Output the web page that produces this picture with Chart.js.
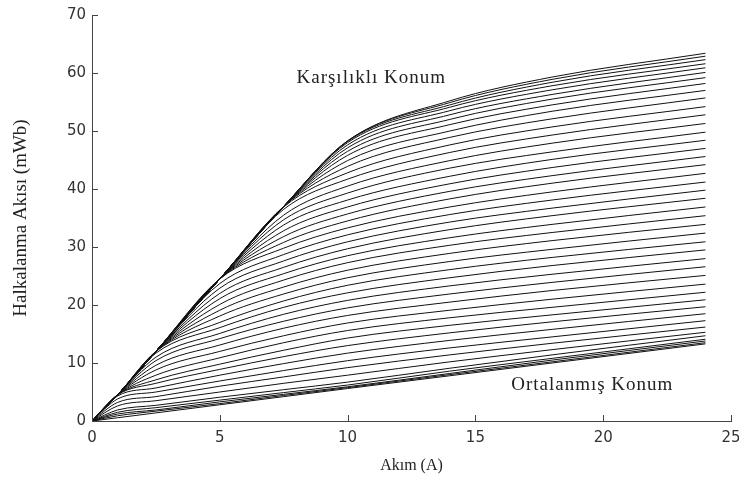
<!DOCTYPE html>
<html>
<head>
<meta charset="utf-8">
<script src="https://cdn.jsdelivr.net/npm/chart.js@4.4.1/dist/chart.umd.min.js"></script>
<style>
  html, body { margin: 0; padding: 0; background: #fff; }
  #chartId { display: block; }
</style>
</head>
<body>
<canvas id="chartId" width="739" height="484"></canvas>
<script>
// current samples (A) shared by every curve
const current = [0, 1, 2.5, 5, 7.5, 10, 14, 18, 24];

// flux linkage (mWb), aligned position (top curve)
const aligned = [0, 4.5, 12.0, 24.5, 37.0, 48.3, 55.2, 59.3, 63.4];

// intermediate rotor positions, upper group
const upperCurves = [
    [0, 4.5, 12.0, 24.5, 37.0, 48.3, 54.9, 58.9, 62.9],
    [0, 4.5, 12.0, 24.5, 37.0, 48.2, 54.5, 58.4, 62.3],
    [0, 4.5, 12.0, 24.5, 37.0, 48.0, 54.1, 57.8, 61.6],
    [0, 4.5, 12.0, 24.5, 37.0, 47.6, 53.5, 57.1, 60.9],
    [0, 4.5, 12.0, 24.5, 37.0, 47.1, 52.8, 56.3, 60.1],
    [0, 4.5, 12.0, 24.5, 37.0, 46.5, 52.0, 55.5, 59.2],
    [0, 4.5, 12.0, 24.5, 37.0, 45.8, 51.1, 54.5, 58.2],
    [0, 4.5, 12.0, 24.5, 37.0, 44.9, 50.0, 53.4, 57.0],
    [0, 4.5, 12.0, 24.5, 37.0, 43.9, 48.9, 52.1, 55.7],
    [0, 4.5, 12.0, 24.5, 36.9, 42.8, 47.6, 50.7, 54.2],
    [0, 4.5, 12.0, 24.5, 36.5, 41.7, 46.3, 49.3, 52.8],
    [0, 4.5, 12.0, 24.5, 35.5, 40.5, 44.9, 47.9, 51.3],
    [0, 4.5, 12.0, 24.5, 34.7, 39.3, 43.6, 46.4, 49.8],
    [0, 4.5, 12.0, 24.5, 33.8, 38.1, 42.2, 45.1, 48.4],
    [0, 4.5, 12.0, 24.5, 32.8, 36.9, 40.9, 43.7, 47.0],
    [0, 4.5, 12.0, 24.5, 31.8, 35.7, 39.6, 42.3, 45.6],
    [0, 4.5, 12.0, 24.5, 30.8, 34.5, 38.3, 41.0, 44.2],
    [0, 4.5, 12.0, 24.5, 29.8, 33.3, 36.9, 39.5, 42.7]
];

// intermediate rotor positions, middle group
const middleCurves = [
    [0, 4.5, 12.0, 23.7, 28.7, 32.1, 35.6, 38.1, 41.2],
    [0, 4.5, 12.0, 22.9, 27.6, 30.9, 34.3, 36.7, 39.8],
    [0, 4.5, 12.0, 22.0, 26.5, 29.7, 33.0, 35.4, 38.4],
    [0, 4.5, 12.0, 21.1, 25.4, 28.5, 31.6, 33.9, 36.9],
    [0, 4.5, 12.0, 20.1, 24.3, 27.3, 30.3, 32.5, 35.4],
    [0, 4.5, 12.0, 19.1, 23.1, 26.0, 28.9, 31.1, 33.9],
    [0, 4.5, 12.0, 18.1, 21.9, 24.7, 27.5, 29.6, 32.4],
    [0, 4.5, 12.0, 17.0, 20.7, 23.4, 26.1, 28.2, 30.9],
    [0, 4.5, 11.7, 16.1, 19.6, 22.1, 24.7, 26.8, 29.5],
    [0, 4.5, 11.0, 15.1, 18.4, 20.8, 23.3, 25.3, 28.0],
    [0, 4.5, 10.4, 14.2, 17.2, 19.5, 21.9, 23.9, 26.6],
    [0, 4.5, 9.6, 13.1, 16.0, 18.2, 20.5, 22.5, 25.1],
    [0, 4.5, 8.8, 12.0, 14.7, 16.9, 19.1, 21.0, 23.6],
    [0, 4.5, 7.9, 10.9, 13.5, 15.6, 17.8, 19.6, 22.2],
    [0, 4.5, 7.1, 9.8, 12.2, 14.3, 16.5, 18.3, 20.9],
    [0, 4.5, 6.5, 8.9, 11.1, 13.0, 15.2, 17.1, 19.7]
];

// intermediate rotor positions, lower group
const lowerCurves = [
    [0, 4.3, 5.7, 7.9, 9.9, 11.7, 13.9, 15.8, 18.5],
    [0, 3.8, 5.0, 6.9, 8.7, 10.4, 12.6, 14.5, 17.3],
    [0, 3.2, 4.2, 6.0, 7.6, 9.2, 11.4, 13.4, 16.2],
    [0, 2.6, 3.5, 5.0, 6.5, 7.9, 10.2, 12.3, 15.3],
    [0, 1.9, 2.7, 4.1, 5.4, 6.7, 9.1, 11.4, 14.7],
    [0, 1.5, 2.3, 3.6, 4.9, 6.2, 8.6, 10.8, 14.1],
    [0, 1.2, 1.9, 3.3, 4.6, 5.9, 8.2, 10.5, 13.8],
    [0, 0.9, 1.7, 3.0, 4.4, 5.75, 8.0, 10.2, 13.5]
];

// unaligned position (bottom curve)
const unaligned = [0, 0.56, 1.4, 2.8, 4.2, 5.6, 7.8, 10.0, 13.3];

const xTicks = [0, 5, 10, 15, 20, 25];
const yTicks = [0, 10, 20, 30, 40, 50, 60, 70];

const notes = [
    { text: 'Karşılıklı Konum', x: 8.0, y: 59.1 },
    { text: 'Ortalanmış Konum', x: 16.4, y: 6.2 }
];

const allCurves = [aligned].concat(upperCurves, middleCurves, lowerCurves, [unaligned]);

const datasets = allCurves.map(function (flux) {
    return {
        data: current.map(function (c, i) { return { x: c, y: flux[i] }; }),
        borderColor: '#111',
        borderWidth: 1,
        pointRadius: 0,
        fill: false,
        cubicInterpolationMode: 'monotone'
    };
});

// inward tick marks and the two position labels
const extras = {
    id: 'extras',
    afterDraw(chart) {
        const ctx = chart.ctx;
        const xs = chart.scales.x, ys = chart.scales.y;
        ctx.save();
        ctx.strokeStyle = '#444';
        ctx.lineWidth = 1;
        ctx.beginPath();
        xTicks.forEach(function (v) {
            const px = Math.round(xs.getPixelForValue(v)) + 0.5;
            ctx.moveTo(px, ys.bottom);
            ctx.lineTo(px, ys.bottom - 6);
        });
        yTicks.forEach(function (v) {
            const py = Math.round(ys.getPixelForValue(v)) + 0.5;
            ctx.moveTo(xs.left, py);
            ctx.lineTo(xs.left + 6, py);
        });
        ctx.stroke();

        ctx.fillStyle = '#222';
        ctx.font = '19px "Liberation Serif"';
        ctx.letterSpacing = '1px';
        ctx.textAlign = 'left';
        ctx.textBaseline = 'middle';
        notes.forEach(function (n) {
            ctx.fillText(n.text, xs.getPixelForValue(n.x), ys.getPixelForValue(n.y));
        });
        ctx.restore();
    }
};

const ctx = document.getElementById('chartId').getContext('2d');

const chart = new Chart(ctx, {
    type: 'line',
    data: { datasets: datasets },
    options: {
        responsive: false,
        animation: false,
        layout: { padding: { left: 0, top: 15, right: 8, bottom: 0 } },
        plugins: { legend: { display: false }, tooltip: { enabled: false } },
        scales: {
            x: {
                type: 'linear',
                min: 0,
                max: 25,
                afterBuildTicks(s) { s.ticks = xTicks.map(v => ({ value: v })); },
                afterFit(s) { s.height = 63; s.paddingLeft = 0; s.paddingRight = 0; },
                ticks: { color: '#333', font: { family: 'DejaVu Sans', size: 15 }, padding: 8, maxRotation: 0 },
                grid: { display: false, drawTicks: false, tickLength: 0 },
                border: { display: true, color: '#444', width: 1 },
                title: {
                    display: true,
                    text: 'Akım (A)',
                    color: '#222',
                    font: { family: 'Liberation Serif', size: 16 },
                    padding: { top: 0, bottom: 9 }
                }
            },
            y: {
                min: 0,
                max: 70,
                afterBuildTicks(s) { s.ticks = yTicks.map(v => ({ value: v })); },
                afterFit(s) { s.width = 92; s.paddingTop = 0; s.paddingBottom = 0; },
                ticks: { color: '#333', font: { family: 'DejaVu Sans', size: 15 }, padding: 6 },
                grid: { display: false, drawTicks: false, tickLength: 0 },
                border: { display: true, color: '#444', width: 1 },
                title: {
                    display: true,
                    text: 'Halkalanma Akısı (mWb)',
                    color: '#222',
                    font: { family: 'Liberation Serif', size: 19 },
                    padding: { top: 10, bottom: 0 }
                }
            }
        }
    },
    plugins: [extras]
});
</script>
</body>
</html>
